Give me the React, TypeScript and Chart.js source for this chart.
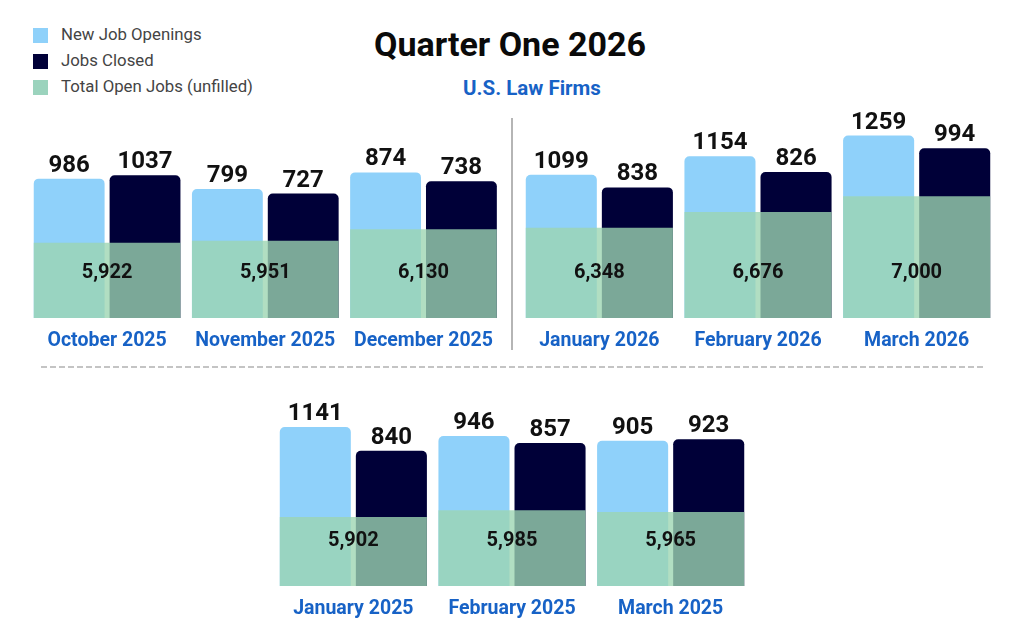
import React, { useEffect, useRef } from 'react';
import { Chart, registerables } from 'chart.js';

Chart.register(...registerables);

// ---------- Data ----------
const q4Months = ['October 2025', 'November 2025', 'December 2025'];
const q4NewOpenings = [986, 799, 874];
const q4JobsClosed = [1037, 727, 738];
const q4TotalOpen = [5922, 5951, 6130];

const q1Months2026 = ['January 2026', 'February 2026', 'March 2026'];
const q1NewOpenings2026 = [1099, 1154, 1259];
const q1JobsClosed2026 = [838, 826, 994];
const q1TotalOpen2026 = [6348, 6676, 7000];

const q1Months2025 = ['January 2025', 'February 2025', 'March 2025'];
const q1NewOpenings2025 = [1141, 946, 905];
const q1JobsClosed2025 = [840, 857, 923];
const q1TotalOpen2025 = [5902, 5985, 5965];

const seriesNames = ['New Job Openings', 'Jobs Closed', 'Total Open Jobs (unfilled)'];
const titleText = 'Quarter One 2026';
const subtitleText = 'U.S. Law Firms';

// ---------- Styles ----------
const LIGHT_BLUE = '#8fd1fa';
const NAVY = '#000038';
const OVERLAY_GREEN = 'rgba(156, 213, 177, 0.79)';
const LEGEND_GREEN = '#9bd3bd';
const LABEL_BLUE = '#1762c6';
const FONT = 'Roboto, "Noto Sans", sans-serif';

const valueLabelPlugin = {
  id: 'valueLabels',
  afterDatasetsDraw(chart: any) {
    const ctx = chart.ctx;
    ctx.save();
    ctx.fillStyle = '#111111';
    ctx.textAlign = 'center';
    chart.data.datasets.forEach((ds: any, di: number) => {
      const meta = chart.getDatasetMeta(di);
      if (meta.hidden) return;
      meta.data.forEach((el: any, i: number) => {
        const v = ds.valueLabels[i];
        if (ds.labelKind === 'top') {
          ctx.font = `bold 24px ${FONT}`;
          ctx.textBaseline = 'alphabetic';
          ctx.fillText(String(v), el.x, el.y - 7);
        } else {
          ctx.font = `bold 20px ${FONT}`;
          ctx.textBaseline = 'middle';
          ctx.fillText(v.toLocaleString('en-US'), el.x, chart.chartArea.bottom - 45);
        }
      });
    });
    ctx.restore();
  },
};

type GroupProps = {
  months: string[];
  newOpenings: number[];
  jobsClosed: number[];
  totalOpen: number[];
  yMin: number;
  yMax: number;
  left: number;
  top: number;
  width: number;
  height: number;
};

function GroupChart(p: GroupProps) {
  const ref = useRef<HTMLCanvasElement | null>(null);
  useEffect(() => {
    if (!ref.current) return;
    const chart = new Chart(ref.current, {
      type: 'bar',
      data: {
        labels: p.months,
        datasets: [
          {
            label: seriesNames[2],
            data: p.totalOpen,
            backgroundColor: OVERLAY_GREEN,
            borderWidth: 0,
            grouped: false,
            categoryPercentage: 1,
            barPercentage: 0.927,
            order: 0,
            valueLabels: p.totalOpen,
            labelKind: 'total',
          } as any,
          {
            label: seriesNames[0],
            data: p.newOpenings.map((v, i) => v + p.totalOpen[i]),
            backgroundColor: LIGHT_BLUE,
            borderWidth: 0,
            borderRadius: 5,
            categoryPercentage: 0.959,
            barPercentage: 0.934,
            order: 1,
            valueLabels: p.newOpenings,
            labelKind: 'top',
          } as any,
          {
            label: seriesNames[1],
            data: p.jobsClosed.map((v, i) => v + p.totalOpen[i]),
            backgroundColor: NAVY,
            borderWidth: 0,
            borderRadius: 5,
            categoryPercentage: 0.959,
            barPercentage: 0.934,
            order: 1,
            valueLabels: p.jobsClosed,
            labelKind: 'top',
          } as any,
        ],
      },
      options: {
        animation: false,
        responsive: true,
        maintainAspectRatio: false,
        layout: { padding: 0 },
        plugins: {
          legend: { display: false },
          tooltip: { enabled: false },
          title: { display: false },
        },
        scales: {
          x: {
            type: 'category',
            offset: true,
            grid: { display: false, drawTicks: false },
            border: { display: false },
            ticks: {
              color: LABEL_BLUE,
              font: { family: FONT, size: 19.5, weight: 'bold' },
              padding: 11,
              maxRotation: 0,
              autoSkip: false,
            },
            afterFit: (s: any) => {
              s.height = 40;
            },
          },
          y: { display: false, min: p.yMin, max: p.yMax },
        },
      } as any,
      plugins: [valueLabelPlugin],
    });
    return () => chart.destroy();
  }, []);
  return (
    <div
      style={{
        position: 'absolute',
        left: p.left,
        top: p.top,
        width: p.width,
        height: p.height,
      }}
    >
      <canvas ref={ref} />
    </div>
  );
}

const legendColors = [LIGHT_BLUE, NAVY, LEGEND_GREEN];

export default function App() {
  return (
    <div
      style={{
        position: 'absolute',
        left: 0,
        top: 0,
        width: 1024,
        height: 640,
        background: '#ffffff',
        overflow: 'hidden',
        fontFamily: FONT,
      }}
    >
      {seriesNames.map((name, i) => (
        <React.Fragment key={name}>
          <div
            style={{
              position: 'absolute',
              left: 33,
              top: 27.5 + i * 26,
              width: 15,
              height: 15,
              background: legendColors[i],
            }}
          />
          <div
            style={{
              position: 'absolute',
              left: 61,
              top: 26,
              marginTop: i * 26,
              fontSize: 16.8,
              lineHeight: '17px',
              color: '#444444',
              whiteSpace: 'nowrap',
            }}
          >
            {name}
          </div>
        </React.Fragment>
      ))}
      <div
        style={{
          position: 'absolute',
          left: 310,
          width: 400,
          top: 26.5,
          textAlign: 'center',
          fontSize: 34,
          lineHeight: '34px',
          fontWeight: 700,
          color: '#0a0a0a',
          whiteSpace: 'nowrap',
        }}
      >
        {titleText}
      </div>
      <div
        style={{
          position: 'absolute',
          left: 332,
          width: 400,
          top: 78,
          textAlign: 'center',
          fontSize: 20.5,
          lineHeight: '21px',
          fontWeight: 700,
          color: LABEL_BLUE,
          whiteSpace: 'nowrap',
        }}
      >
        {subtitleText}
      </div>

      <GroupChart
        months={q4Months}
        newOpenings={q4NewOpenings}
        jobsClosed={q4JobsClosed}
        totalOpen={q4TotalOpen}
        yMin={4764}
        yMax={8118}
        left={28}
        top={100}
        width={476}
        height={258}
      />
      <GroupChart
        months={q1Months2026}
        newOpenings={q1NewOpenings2026}
        jobsClosed={q1JobsClosed2026}
        totalOpen={q1TotalOpen2026}
        yMin={4482}
        yMax={8995}
        left={520}
        top={100}
        width={476}
        height={258}
      />
      <div
        style={{
          position: 'absolute',
          left: 511,
          top: 118,
          width: 2,
          height: 232,
          background: '#b5b5b5',
        }}
      />
      <div
        style={{
          position: 'absolute',
          left: 41,
          top: 366,
          width: 942,
          height: 2,
          background: 'repeating-linear-gradient(to right, #c4c4c4 0px, #c4c4c4 6px, transparent 6px, transparent 9px)',
        }}
      />
      <GroupChart
        months={q1Months2025}
        newOpenings={q1NewOpenings2025}
        jobsClosed={q1JobsClosed2025}
        totalOpen={q1TotalOpen2025}
        yMin={5024}
        yMax={7667}
        left={274}
        top={378}
        width={476}
        height={248}
      />
    </div>
  );
}
